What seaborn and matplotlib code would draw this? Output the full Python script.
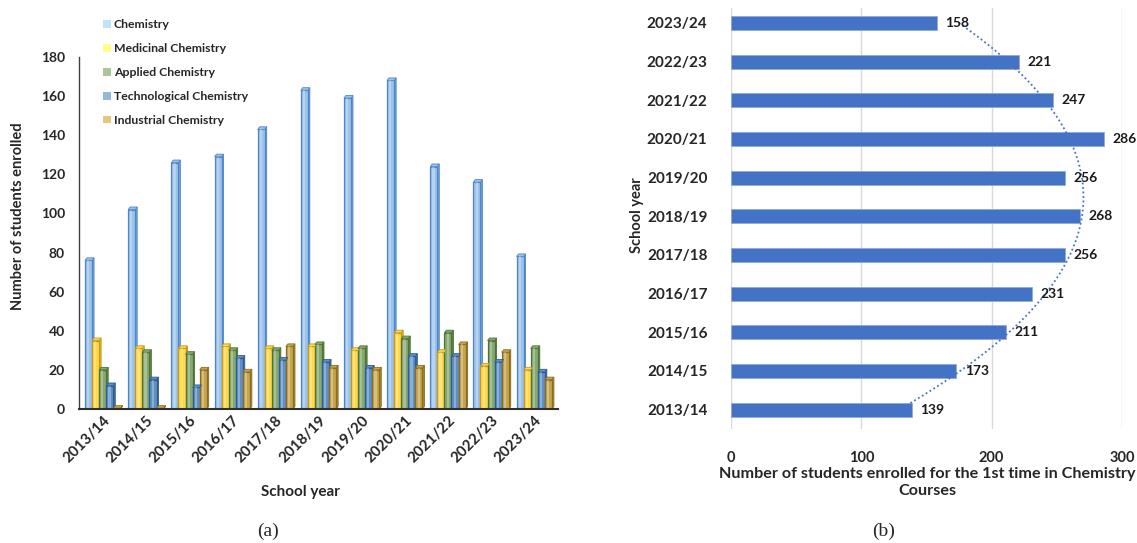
import numpy as np
import pandas as pd
import matplotlib
matplotlib.use("Agg")
import matplotlib.pyplot as plt
from matplotlib.patches import Patch, Polygon
import seaborn as sns

# ---------------- data ----------------
years = ["2013/14", "2014/15", "2015/16", "2016/17", "2017/18", "2018/19",
         "2019/20", "2020/21", "2021/22", "2022/23", "2023/24"]
courses = ["Chemistry", "Medicinal Chemistry", "Applied Chemistry",
           "Technological Chemistry", "Industrial Chemistry"]
chemistry = [76, 102, 126, 129, 143, 163, 159, 168, 124, 116, 78]
medicinal = [35, 31, 31, 32, 31, 32, 30, 39, 29, 22, 20]
applied = [20, 29, 28, 30, 30, 33, 31, 36, 39, 35, 31]
technological = [12, 15, 11, 26, 25, 24, 21, 27, 27, 24, 19]
industrial = [0.4, 0.4, 20, 19, 32, 21, 20, 21, 33, 29, 15]
first_time = [139, 173, 211, 231, 256, 268, 256, 286, 247, 221, 158]

# ---------------- style ----------------
sns.set_theme(style="white")
plt.rcParams["font.family"] = ["Lato", "DejaVu Sans"]

bar_face = ["#9DC3EA", "#FFD84C", "#86A972", "#5F8FC6", "#C7A54E"]
bar_edge = ["#4F86C9", "#C49A17", "#4D7335", "#2F5D8E", "#8A6D1E"]
bar_side = ["#6FA3DC", "#E0B520", "#5E8546", "#3E6EA3", "#A5862F"]
legend_face = ["#BFE3F8", "#FFFF8A", "#A9C69C", "#94B7DF", "#E4C77D"]

W, H = 1137, 543
fig = plt.figure(figsize=(W / 100, H / 100), dpi=100)

# ---------------- panel (a) ----------------
df = pd.DataFrame({"School year": years, courses[0]: chemistry,
                   courses[1]: medicinal, courses[2]: applied,
                   courses[3]: technological, courses[4]: industrial})
long = df.melt(id_vars="School year", var_name="Course", value_name="Students")

aL, aR, aT, aB = 79, 558, 57, 409
axa = fig.add_axes([aL / W, 1 - aB / H, (aR - aL) / W, (aB - aT) / H])
sns.barplot(data=long, x="School year", y="Students", hue="Course",
            hue_order=courses, order=years, palette=bar_face, width=0.82,
            ax=axa, legend=False, saturation=1)
n = len(years)
dx, dy = 0.045, 1.3   # pseudo-3D depth (data units)
containers = list(axa.containers)
for k, container in enumerate(containers):
    for p in container:
        p.set_edgecolor(bar_edge[k])
        p.set_linewidth(0.9)
        x0, w, h = p.get_x(), p.get_width(), p.get_height()
        z = p.get_zorder()
        axa.add_patch(Polygon([(x0 + w, 0), (x0 + w + dx, dy), (x0 + w + dx, h + dy),
                               (x0 + w, h)], closed=True, facecolor=bar_side[k],
                              edgecolor=bar_edge[k], linewidth=0.6, zorder=z - 0.05))
        axa.add_patch(Polygon([(x0, h), (x0 + dx, h + dy), (x0 + w + dx, h + dy),
                               (x0 + w, h)], closed=True, facecolor=bar_face[k],
                              edgecolor=bar_edge[k], linewidth=0.6, zorder=z + 0.05))
        axa.bar(x0 + w * 0.3, h, width=w * 0.3, align="edge",
                color="white", alpha=0.28, linewidth=0, zorder=z + 0.1)

axa.set_ylim(0, 180)
axa.set_xlim(-0.55, n - 0.45)
axa.set_yticks(range(0, 181, 20))
axa.tick_params(axis="y", labelsize=10, length=0, pad=10)
axa.tick_params(axis="x", labelsize=10.8, length=0, pad=3)
for lab in axa.get_yticklabels():
    lab.set_fontweight("bold")
axa.set_xticks(range(n))
axa.set_xticklabels(years, rotation=45, ha="right", rotation_mode="anchor",
                    fontweight="bold")
axa.set_xlabel("School year", fontsize=11, fontweight="bold")
axa.xaxis.set_label_coords((300 - aL) / (aR - aL), -(485 - aB) / (aB - aT))
axa.set_ylabel("Number of students enrolled", fontsize=10.5, fontweight="bold")
axa.yaxis.set_label_coords(-(aL - 25) / (aR - aL), (aB - 216) / (aB - aT))
for s in ["top", "right"]:
    axa.spines[s].set_visible(False)
axa.spines["left"].set_color("#404040")
axa.spines["bottom"].set_color("#303030")
axa.spines["left"].set_linewidth(1.0)
axa.spines["bottom"].set_linewidth(1.5)
axa.grid(False)

handles = [Patch(facecolor=c, edgecolor="none") for c in legend_face]
fig.legend(handles, courses, loc="upper left",
           bbox_to_anchor=(103 / W, 1 - 19.5 / H), frameon=False,
           prop={"size": 8.8, "weight": "bold"}, handlelength=0.62,
           handleheight=0.62, handletextpad=0.25, labelspacing=1.05,
           borderpad=0, borderaxespad=0)

fig.text(268 / W, 1 - 531 / H, "(a)", family="Liberation Serif",
         fontsize=14, ha="center", va="center")

# ---------------- panel (b) ----------------
dfb = pd.DataFrame({"School year": years, "Students": first_time})
order_b = years[::-1]
vals_b = dfb.set_index("School year").loc[order_b, "Students"].to_numpy(dtype=float)
bL, bR, bT, bB = 731, 1122, 7.5, 429
axb = fig.add_axes([bL / W, 1 - bB / H, (bR - bL) / W, (bB - bT) / H])
sns.barplot(data=dfb, y="School year", x="Students", order=order_b,
            color="#4472C4", saturation=1, width=0.36, ax=axb,
            edgecolor="#8FAADC", linewidth=0.6)
axb.set_xlim(0, 300)
axb.set_ylim(n - 0.5, -0.4)
axb.set_xticks([0, 100, 200, 300])
axb.xaxis.grid(True, color="#D9D9D9", linewidth=1.0)
axb.set_axisbelow(True)
for s in axb.spines.values():
    s.set_visible(False)
axb.tick_params(axis="x", labelsize=10.5, length=0, pad=16)
axb.tick_params(axis="y", labelsize=11, length=0, pad=17)
for lab in axb.get_xticklabels() + axb.get_yticklabels():
    lab.set_fontweight("bold")
for container in list(axb.containers):
    axb.bar_label(container, labels=[f"{int(v)}" for v in vals_b],
                  padding=6, fontsize=10, fontweight="bold", color="#1a1a1a")

# polynomial (order 2) trendline over the categories
pos = np.arange(n)
coef = np.polyfit(pos, vals_b, 2)
ys = np.linspace(0, n - 1, 200)
axb.plot(np.polyval(coef, ys), ys, linestyle=(0, (1, 1.5)), color="#4472C4",
         linewidth=1.3, zorder=1)

axb.set_xlabel("Number of students enrolled for the 1st time in Chemistry\nCourses",
               fontsize=11.6, fontweight="bold", linespacing=1.3)
axb.xaxis.set_label_coords((927 - bL) / (bR - bL), -(467 - bB) / (bB - bT))
axb.set_ylabel("School year", fontsize=10.5, fontweight="bold")
axb.yaxis.set_label_coords(-(bL - 644) / (bR - bL), (bB - 215) / (bB - bT))

fig.text(884 / W, 1 - 531 / H, "(b)", family="Liberation Serif",
         fontsize=14, ha="center", va="center")

fig.savefig("out.png", dpi=100)
